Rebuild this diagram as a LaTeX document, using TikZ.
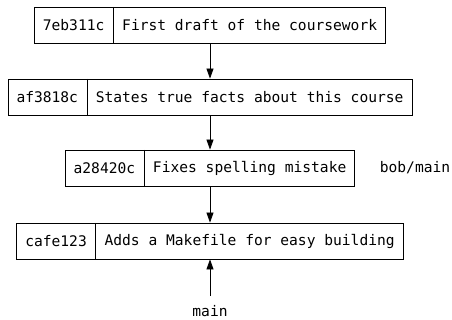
\documentclass[tikz,border=0pt]{standalone}
\usepackage{fontspec}
\setmonofont{DejaVu Sans Mono}
\usetikzlibrary{shapes.multipart, arrows.meta}

\begin{document}
\begin{tikzpicture}[
                x = 1pt, y = -1pt,
                commit/.style = {draw, line width = 0.8pt, rectangle split, rectangle split horizontal,
                    rectangle split parts = 2, inner xsep = 8.5pt, inner ysep = 0pt,
                    minimum height = 36pt, font = \ttfamily\fontsize{14.6}{17}\selectfont},
                branch/.style = {inner sep = 0pt, font = \ttfamily\fontsize{14.6}{17}\selectfont},
                arr/.style = {draw, line width = 0.8pt, -{Triangle[width = 7pt, length = 10pt]}},
            ]
            \useasboundingbox (0,0) rectangle (452,320);

            \node (c1) [commit] at (210, 25) {7eb311c \nodepart{two} First draft of the coursework};
            \node (c2) [commit] at (210, 97) {af3818c \nodepart{two} States true facts about this course};
            \node (c3) [commit] at (210, 168) {a28420c \nodepart{two} Fixes spelling mistake};
            \node (c4) [commit] at (210, 241) {cafe123 \nodepart{two} Adds a Makefile for easy building};

            \node (bobmain) [branch] at (415, 168) {bob/main};
            \node (main) [branch] at (210, 311) {main};

            \path[arr] (c1) -- (c2);
            \path[arr] (c2) -- (c3);
            \path[arr] (c3) -- (c4);

            \path[arr, shorten <= 9pt] (main) -- (c4);
        \end{tikzpicture}
\end{document}
